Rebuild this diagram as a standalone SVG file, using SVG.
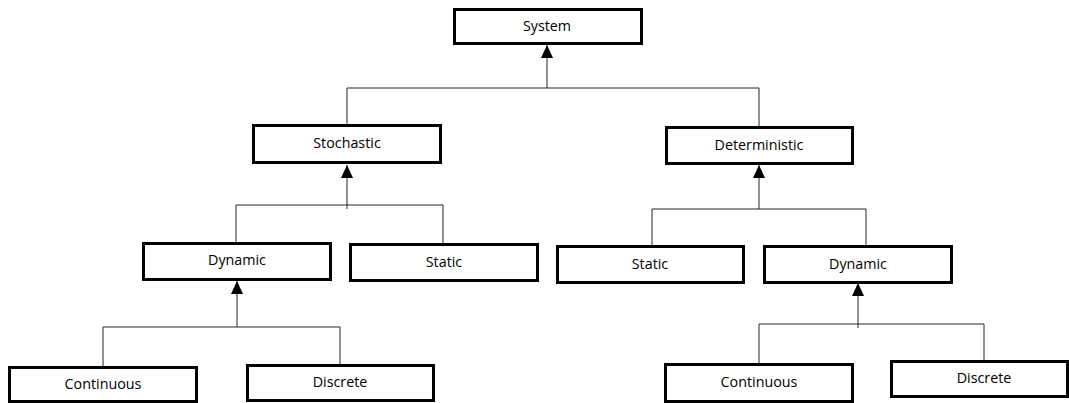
<svg xmlns="http://www.w3.org/2000/svg" width="1069" height="403" viewBox="0 0 1069 403">
  <style>
    .box { fill: #ffffff; stroke: #000000; stroke-width: 3; }
    .lbl { font-family: "Open Sans", "Liberation Sans", sans-serif; font-size: 14.3px; fill: #000000; text-anchor: middle; }
    .wire { fill: none; stroke: #262626; stroke-width: 1; }
  </style>
  <defs>
    <marker id="tri" viewBox="0 0 12 13" refX="6" refY="0" markerWidth="12" markerHeight="13" markerUnits="userSpaceOnUse" orient="0">
      <path d="M0 13 L6 0 L12 13 Z" fill="#000000"/>
    </marker>
  </defs>
  <rect width="1069" height="403" fill="#ffffff"/>

  <!-- connectors: each parent collects its children through a bar and an arrowed stem -->
  <g id="connectors">
    <!-- System -->
    <path class="wire" d="M347 125 V88 H759 V127"/>
    <line class="wire" x1="547" y1="88" x2="547" y2="45" marker-end="url(#tri)"/>
    <!-- Stochastic -->
    <path class="wire" d="M236 243 V205 H443 V244"/>
    <line class="wire" x1="347" y1="209" x2="347" y2="165" marker-end="url(#tri)"/>
    <!-- Deterministic -->
    <path class="wire" d="M652 246 V209 H866 V246"/>
    <line class="wire" x1="759" y1="209" x2="759" y2="165" marker-end="url(#tri)"/>
    <!-- Dynamic (left) -->
    <path class="wire" d="M103 367 V327 H340 V365"/>
    <line class="wire" x1="237" y1="327" x2="237" y2="281" marker-end="url(#tri)"/>
    <!-- Dynamic (right) -->
    <path class="wire" d="M759 364 V324 H984 V361"/>
    <line class="wire" x1="858" y1="328" x2="858" y2="283" marker-end="url(#tri)"/>
  </g>

  <g id="system">
    <rect class="box" x="454.5" y="9.5" width="187" height="34"/>
    <text class="lbl" x="547" y="30.5">System</text>
  </g>
  <g id="stochastic">
    <rect class="box" x="253.5" y="125.5" width="187" height="37"/>
    <text class="lbl" x="347" y="148">Stochastic</text>
  </g>
  <g id="deterministic">
    <rect class="box" x="666.5" y="127.5" width="186" height="36"/>
    <text class="lbl" x="759" y="150">Deterministic</text>
  </g>
  <g id="dynamic-left">
    <rect class="box" x="143.5" y="243.5" width="187" height="36"/>
    <text class="lbl" x="237" y="265">Dynamic</text>
  </g>
  <g id="static-left">
    <rect class="box" x="350.5" y="244.5" width="187" height="36"/>
    <text class="lbl" x="444" y="267">Static</text>
  </g>
  <g id="static-right">
    <rect class="box" x="557.5" y="246.5" width="186" height="36"/>
    <text class="lbl" x="650" y="268.5">Static</text>
  </g>
  <g id="dynamic-right">
    <rect class="box" x="764.5" y="246.5" width="187" height="36"/>
    <text class="lbl" x="858" y="268.5">Dynamic</text>
  </g>
  <g id="continuous-left">
    <rect class="box" x="9.5" y="367.5" width="187" height="34"/>
    <text class="lbl" x="103" y="389">Continuous</text>
  </g>
  <g id="discrete-left">
    <rect class="box" x="247.5" y="365.5" width="186" height="35"/>
    <text class="lbl" x="340" y="387">Discrete</text>
  </g>
  <g id="continuous-right">
    <rect class="box" x="665.5" y="364.5" width="187" height="37"/>
    <text class="lbl" x="759" y="387">Continuous</text>
  </g>
  <g id="discrete-right">
    <rect class="box" x="891.5" y="361.5" width="176" height="35"/>
    <text class="lbl" x="984" y="383">Discrete</text>
  </g>
</svg>
